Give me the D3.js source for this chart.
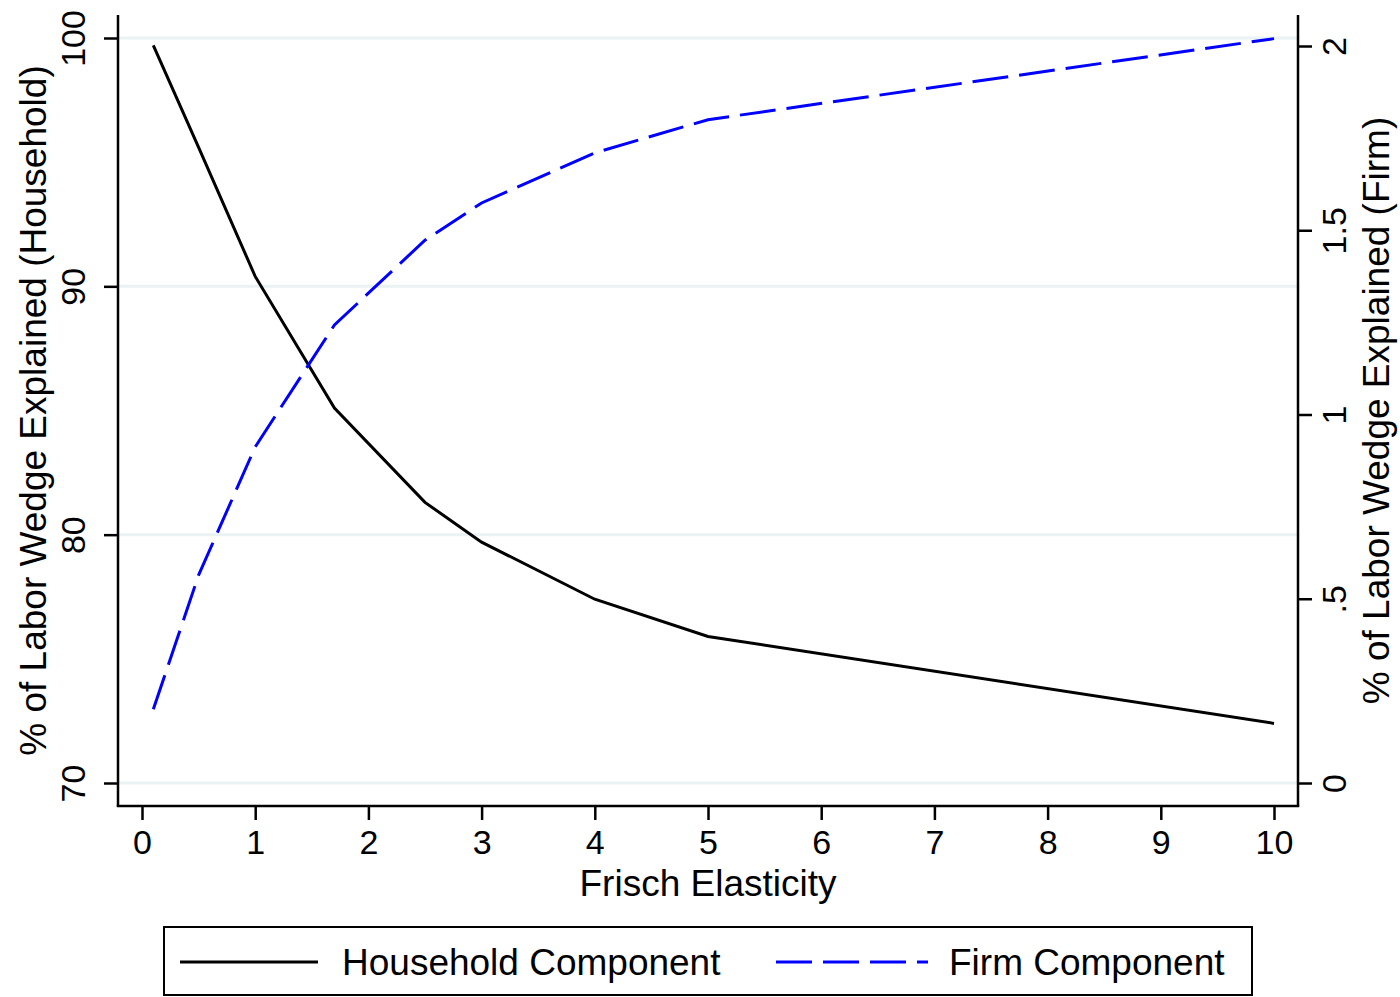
<!DOCTYPE html>
<html>
<head>
<meta charset="utf-8">
<script src="https://cdn.jsdelivr.net/npm/d3@7"></script>
<style>
  body { margin: 0; background: #fff; }
  text { font-family: "Liberation Sans", Arial, sans-serif; fill: #000; }
</style>
</head>
<body>
<div id="chart"></div>
<script>
// frisch elasticity values
var elasticity = [0.1, 0.5, 1, 1.7, 2.5, 3, 4, 5, 10];
// % explained, household (left axis)
var household = [99.7, 95.6, 90.4, 85.1, 81.3, 79.7, 77.4, 75.9, 72.4];
// % explained, firm (right axis)
var firm = [0.2, 0.564, 0.912, 1.243, 1.473, 1.574, 1.71, 1.80, 2.02];

var xTicks = [0, 1, 2, 3, 4, 5, 6, 7, 8, 9, 10];
var leftTicks = [70, 80, 90, 100];
var rightTicks = [0, 0.5, 1, 1.5, 2];
var rightTickLabels = ["0", ".5", "1", "1.5", "2"];

var W = 1400, H = 997;
var mLeft = 118, mRight = 1298, mTop = 15, mBottom = 806;

var svg = d3.select("#chart").append("svg")
    .attr("width", W)
    .attr("height", H);

var x = d3.scaleLinear().domain([0, 10]).range([142, 1274]);
var yL = d3.scaleLinear().domain([70, 100]).range([783, 38]);
var yR = d3.scaleLinear().domain([0, 2]).range([783, 46]);

/* gridlines */
svg.selectAll("line.grid")
    .data(leftTicks)
  .enter().append("line")
    .attr("class", "grid")
    .attr("x1", mLeft).attr("x2", mRight)
    .attr("y1", function(d) { return yL(d); })
    .attr("y2", function(d) { return yL(d); })
    .attr("stroke", "#eaf2f3")
    .attr("stroke-width", 3);

/* axes */
var xAxis = svg.append("g")
    .attr("transform", "translate(0," + mBottom + ")")
    .call(d3.axisBottom(x).tickValues(xTicks).tickSize(14).tickFormat(d3.format("d")));

var lAxis = svg.append("g")
    .attr("transform", "translate(" + mLeft + ",0)")
    .call(d3.axisLeft(yL).tickValues(leftTicks).tickSize(14).tickFormat(d3.format("d")));

var rAxis = svg.append("g")
    .attr("transform", "translate(" + mRight + ",0)")
    .call(d3.axisRight(yR).tickValues(rightTicks).tickSize(14)
      .tickFormat(function(d, i) { return rightTickLabels[i]; }));

[xAxis, lAxis, rAxis].forEach(function(a) {
  a.attr("font-size", null).attr("font-family", null);
  a.select(".domain").remove();
  a.selectAll(".tick line").attr("stroke", "#000").attr("stroke-width", 2.5);
  a.selectAll(".tick text").attr("font-size", 34).attr("fill", "#000");
});

xAxis.selectAll(".tick text").attr("dy", null).attr("y", 48);

// rotated tick labels on y axes
lAxis.selectAll(".tick text")
    .attr("x", null).attr("y", null).attr("dy", null)
    .attr("text-anchor", "middle")
    .attr("transform", "translate(-33,0) rotate(-90)");
rAxis.selectAll(".tick text")
    .attr("x", null).attr("y", null).attr("dy", null)
    .attr("text-anchor", "middle")
    .attr("transform", "translate(48,0) rotate(-90)");

/* axis lines */
svg.append("line").attr("x1", mLeft).attr("x2", mLeft).attr("y1", mTop).attr("y2", mBottom)
    .attr("stroke", "#000").attr("stroke-width", 2.5);
svg.append("line").attr("x1", mRight).attr("x2", mRight).attr("y1", mTop).attr("y2", mBottom)
    .attr("stroke", "#000").attr("stroke-width", 2.5);
svg.append("line").attr("x1", mLeft - 1.25).attr("x2", mRight + 1.25).attr("y1", mBottom).attr("y2", mBottom)
    .attr("stroke", "#000").attr("stroke-width", 2.5);

/* titles */
svg.append("text")
    .attr("x", x(5)).attr("y", 896)
    .attr("text-anchor", "middle")
    .attr("font-size", 37)
    .text("Frisch Elasticity");

svg.append("text")
    .attr("transform", "translate(46," + ((mTop + mBottom) / 2) + ") rotate(-90)")
    .attr("text-anchor", "middle")
    .attr("font-size", 37)
    .text("% of Labor Wedge Explained (Household)");

svg.append("text")
    .attr("transform", "translate(1389," + ((mTop + mBottom) / 2) + ") rotate(-90)")
    .attr("text-anchor", "middle")
    .attr("font-size", 37)
    .text("% of Labor Wedge Explained (Firm)");

/* lines */
var lineH = d3.line()
    .x(function(d, i) { return x(elasticity[i]); })
    .y(function(d) { return yL(d); });
var lineF = d3.line()
    .x(function(d, i) { return x(elasticity[i]); })
    .y(function(d) { return yR(d); });

svg.append("path")
    .attr("d", lineH(household))
    .attr("fill", "none")
    .attr("stroke", "#000")
    .attr("stroke-width", 3);

svg.append("path")
    .attr("d", lineF(firm))
    .attr("fill", "none")
    .attr("stroke", "#0000ff")
    .attr("stroke-width", 3)
    .attr("stroke-dasharray", "36,11");

/* legend */
var lg = svg.append("g");
lg.append("rect")
    .attr("x", 164).attr("y", 927)
    .attr("width", 1088).attr("height", 68)
    .attr("fill", "#fff")
    .attr("stroke", "#000")
    .attr("stroke-width", 2);
lg.append("line")
    .attr("x1", 180).attr("x2", 318).attr("y1", 962).attr("y2", 962)
    .attr("stroke", "#000").attr("stroke-width", 3);
lg.append("text")
    .attr("x", 342).attr("y", 975)
    .attr("font-size", 37)
    .text("Household Component");
lg.append("line")
    .attr("x1", 776).attr("x2", 928).attr("y1", 962).attr("y2", 962)
    .attr("stroke", "#0000ff").attr("stroke-width", 3)
    .attr("stroke-dasharray", "36,11");
lg.append("text")
    .attr("x", 949).attr("y", 975)
    .attr("font-size", 37)
    .text("Firm Component");
</script>
</body>
</html>
